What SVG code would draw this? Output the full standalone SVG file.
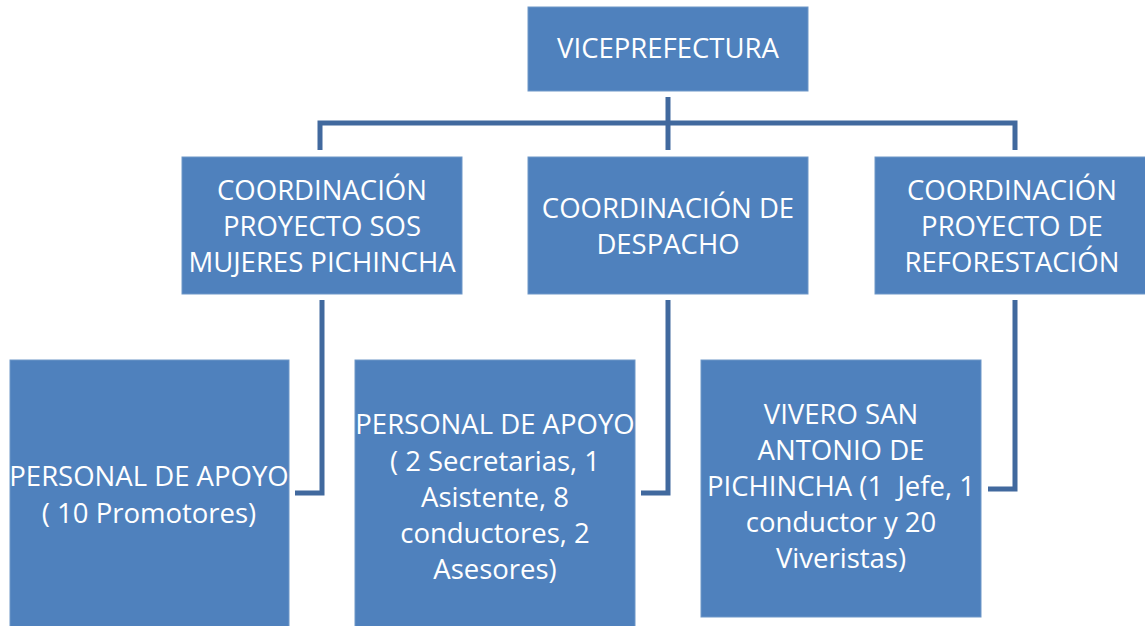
<svg xmlns="http://www.w3.org/2000/svg" width="1145" height="626" viewBox="0 0 1145 626">
<style>
.box{fill:#4F81BD;stroke:#6E97C8;stroke-width:1}
.t{fill:#FFFFFF;font-family:"Open Sans","Liberation Sans",sans-serif;font-size:27.5px;text-anchor:middle;white-space:pre}
.c{fill:none;stroke:#41699E;stroke-width:5}
</style>
<rect width="1145" height="626" fill="#FFFFFF"/>
<g id="connectors">
<path class="c" d="M668 97 V150"/>
<path class="c" d="M320 150 V123 H1015 V150"/>
<path class="c" d="M322 300 V493 H295"/>
<path class="c" d="M668 300 V493 H641"/>
<path class="c" d="M1015 300 V489 H988"/>
</g>
<g id="viceprefectura">
<rect class="box" x="528" y="7" width="280" height="84"/>
<text class="t" x="668" y="58">VICEPREFECTURA</text>
</g>
<g id="coord-sos">
<rect class="box" x="182" y="157" width="280" height="137"/>
<text class="t" x="322" y="200">COORDINACIÓN</text>
<text class="t" x="322" y="236">PROYECTO SOS</text>
<text class="t" x="322" y="272">MUJERES PICHINCHA</text>
</g>
<g id="coord-despacho">
<rect class="box" x="528" y="157" width="280" height="137"/>
<text class="t" x="668" y="218">COORDINACIÓN DE</text>
<text class="t" x="668" y="254">DESPACHO</text>
</g>
<g id="coord-reforestacion">
<rect class="box" x="875" y="157" width="275" height="137"/>
<text class="t" x="1012" y="200">COORDINACIÓN</text>
<text class="t" x="1012" y="236">PROYECTO DE</text>
<text class="t" x="1012" y="272">REFORESTACIÓN</text>
</g>
<g id="apoyo-sos">
<rect class="box" x="10" y="360" width="279" height="270"/>
<text class="t" x="149" y="486">PERSONAL DE APOYO</text>
<text class="t" x="149" y="523">( 10 Promotores)</text>
</g>
<g id="apoyo-despacho">
<rect class="box" x="355" y="360" width="280" height="270"/>
<text class="t" x="495" y="434">PERSONAL DE APOYO</text>
<text class="t" x="495" y="471">( 2 Secretarias, 1</text>
<text class="t" x="495" y="507">Asistente, 8</text>
<text class="t" x="495" y="543">conductores, 2</text>
<text class="t" x="495" y="579">Asesores)</text>
</g>
<g id="vivero">
<rect class="box" x="701" y="360" width="280" height="257"/>
<text class="t" x="841" y="424">VIVERO SAN</text>
<text class="t" x="841" y="460">ANTONIO DE</text>
<text class="t" x="841" y="496">PICHINCHA (1  Jefe, 1</text>
<text class="t" x="841" y="532">conductor y 20</text>
<text class="t" x="841" y="568">Viveristas)</text>
</g>
</svg>
